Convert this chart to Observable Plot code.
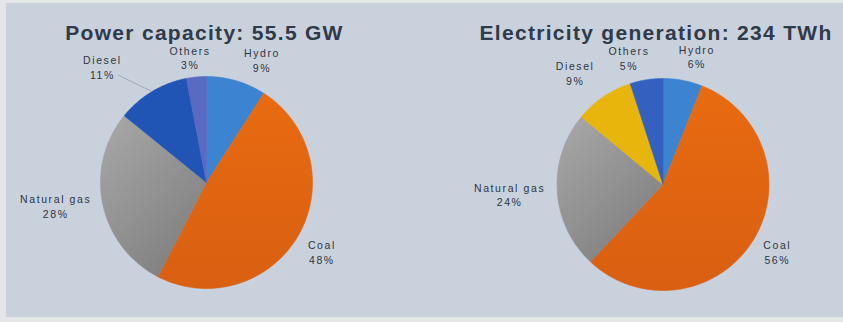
<!DOCTYPE html>
<html>
<head>
<meta charset="utf-8">
<script src="https://cdn.jsdelivr.net/npm/d3@7"></script>
<script src="https://cdn.jsdelivr.net/npm/@observablehq/plot@0.6"></script>
<style>
  body { margin: 0; background: #e3e5e7; }
  #wrap { position: relative; width: 843px; height: 322px; overflow: hidden; background: #e3e5e7; }
  #panel { position: absolute; left: 6px; top: 3px; width: 837px; height: 314px; background: #c8d1dc; }
  .chart { position: absolute; top: 0; }
</style>
</head>
<body>
<div id="wrap"><div id="panel"></div></div>
<script>
// Shares of each source, in percent
const sources = ["Hydro", "Coal", "Natural gas", "Diesel", "Others"];
const capacityShare = [9, 48, 28, 11, 3];
const generationShare = [6, 56, 24, 9, 5];
const capacityTitle = "Power capacity: 55.5 GW";
const generationTitle = "Electricity generation: 234 TWh";

// Slice colours, in the order of `sources` (gradients are defined below)
const capacityColors = ["#3c83d2", "url(#coalShade)", "url(#gasShade)", "#2055b6", "#5a69c2"];
const generationColors = ["#3c83d2", "url(#coalShade)", "url(#gasShade)", "#e8b50c", "#3461c0"];

// Label placement: [distance from centre in radii, angle nudge in degrees]
const capacityLabelPlace = [[1.27, 8], [1.27, 1], [1.44, 3], [1.47, -11], [1.19, -2]];
const generationLabelPlace = [[1.25, 4], [1.25, -2], [1.45, 0], [1.34, -4], [1.24, -6]];

const R = 106; // pie radius in pixels
const rad = (deg) => deg * Math.PI / 180;
const polar = (angle, r) => ({x: r * Math.sin(angle), y: r * Math.cos(angle)});

function pieGeometry(values) {
  const arcs = d3.pie().sort(null).value((d) => d)(values);
  const outline = [];
  arcs.forEach((a, i) => {
    const n = Math.max(2, Math.ceil((a.endAngle - a.startAngle) / 0.015));
    outline.push({source: sources[i], x: 0, y: 0});
    for (let k = 0; k <= n; ++k) {
      const t = a.startAngle + (a.endAngle - a.startAngle) * k / n;
      outline.push({source: sources[i], ...polar(t, 1)});
    }
    outline.push({source: sources[i], x: 0, y: 0});
  });
  return {arcs, outline};
}

function addShades(svg) {
  const ns = "http://www.w3.org/2000/svg";
  const defs = document.createElementNS(ns, "defs");
  const shades = [
    {id: "gasShade", stops: [["0%", "#a9a9a9"], ["100%", "#7f7f7f"]], x2: "70%", y2: "100%"},
    {id: "coalShade", stops: [["0%", "#e86b10"], ["100%", "#d95f12"]], x2: "0%", y2: "100%"}
  ];
  for (const s of shades) {
    const g = document.createElementNS(ns, "linearGradient");
    g.setAttribute("id", s.id);
    g.setAttribute("x1", "0%"); g.setAttribute("y1", "0%");
    g.setAttribute("x2", s.x2); g.setAttribute("y2", s.y2);
    for (const [offset, color] of s.stops) {
      const stop = document.createElementNS(ns, "stop");
      stop.setAttribute("offset", offset);
      stop.setAttribute("stop-color", color);
      g.appendChild(stop);
    }
    defs.appendChild(g);
  }
  svg.insertBefore(defs, svg.firstChild);
}

function pieChart({values, colors, title, place, width, marginLeft, marginTop, titleDy, titleDx, leader}) {
  const {arcs, outline} = pieGeometry(values);
  const frameW = width - marginLeft;
  const frameH = 322 - marginTop;
  const hx = frameW / 2 / R, hy = frameH / 2 / R;
  const labels = arcs.map((a, i) => {
    const mid = (a.startAngle + a.endAngle) / 2 + rad(place[i][1]);
    return {source: sources[i], text: `${sources[i]}\n${values[i]}%`, ...polar(mid, place[i][0])};
  });
  const links = leader ? arcs.filter((a, i) => sources[i] === leader.source).map((a) => {
    const mid = (a.startAngle + a.endAngle) / 2;
    const p1 = polar(mid, 1.0), p2 = polar(rad(leader.angle), leader.r);
    return {x1: p1.x, y1: p1.y, x2: p2.x, y2: p2.y};
  }) : [];
  const svg = Plot.plot({
    width, height: 322,
    marginTop, marginBottom: 0, marginLeft, marginRight: 0,
    x: {domain: [-hx, hx], axis: null},
    y: {domain: [-hy, hy], axis: null},
    color: {domain: sources, range: colors},
    style: {background: "transparent", fontFamily: "'Liberation Sans', Arial, sans-serif", overflow: "visible"},
    marks: [
      Plot.line(outline, {x: "x", y: "y", z: "source", fill: "source", stroke: "source", strokeWidth: 0.6, curve: "linear"}),
      Plot.link(links, {x1: "x1", y1: "y1", x2: "x2", y2: "y2", stroke: "#a3abb5", strokeWidth: 1}),
      Plot.text(labels, {x: "x", y: "y", text: "text", fontSize: 10.5, lineHeight: 1.4, fill: "#30363f"}),
      Plot.text([title], {frameAnchor: "top", dy: titleDy, dx: titleDx, fontSize: 21, fontWeight: "bold", fill: "#2f3a4a"})
    ]
  });
  addShades(svg);
  // widen the lettering of the slice labels and the title
  const textGroups = svg.querySelectorAll('g[aria-label="text"]');
  if (textGroups[0]) textGroups[0].setAttribute("letter-spacing", "1.6");
  if (textGroups[1]) textGroups[1].setAttribute("letter-spacing", "1.3");
  return svg;
}

const left = pieChart({
  values: capacityShare, colors: capacityColors, title: capacityTitle, place: capacityLabelPlace,
  width: 412, marginLeft: 0, marginTop: 42, titleDy: -17, titleDx: -2,
  leader: {source: "Diesel", angle: 320.6, r: 1.31}
});
const right = pieChart({
  values: generationShare, colors: generationColors, title: generationTitle, place: generationLabelPlace,
  width: 431, marginLeft: 70, marginTop: 46, titleDy: -21, titleDx: -7
});
left.classList.add("chart"); left.style.left = "0px";
right.classList.add("chart"); right.style.left = "412px";
const wrap = document.getElementById("wrap");
wrap.appendChild(left);
wrap.appendChild(right);
</script>
</body>
</html>
